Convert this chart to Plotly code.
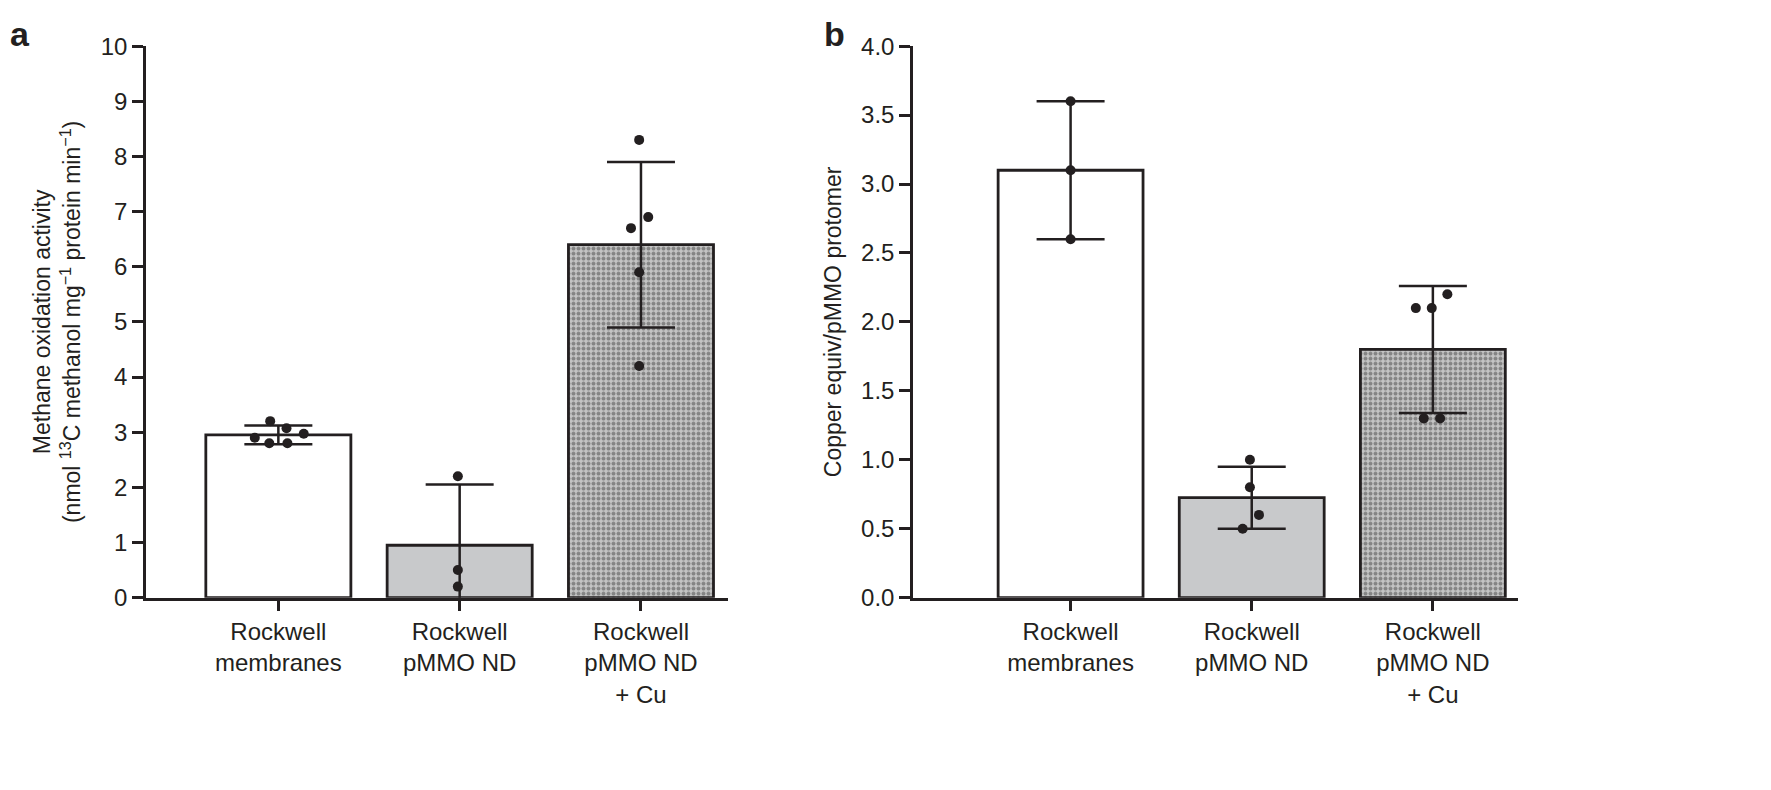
import plotly.graph_objects as go

categories = ["Rockwell<br>membranes", "Rockwell<br>pMMO ND", "Rockwell<br>pMMO ND<br>+ Cu"]

# Panel a: methane oxidation activity
a_means = [2.95, 0.95, 6.4]
a_err = [0.17, 1.1, 1.5]
a_points = [
    [2.9, 3.2, 2.8, 3.07, 2.8, 2.97],
    [2.2, 0.5, 0.2],
    [8.3, 6.7, 6.9, 5.9, 4.2],
]

# Panel b: copper equiv / pMMO protomer
b_means = [3.1, 0.725, 1.8]
b_err = [0.5, 0.225, 0.46]
b_points = [
    [3.6, 3.1, 2.6],
    [1.0, 0.8, 0.6, 0.5],
    [2.1, 2.1, 2.2, 1.3, 1.3],
]

# horizontal jitter of the dots (style only)
a_jit = [[-0.13, -0.045, -0.05, 0.045, 0.05, 0.14], [-0.01, -0.01, -0.01], [-0.01, -0.055, 0.04, -0.01, -0.01]]
b_jit = [[0, 0, 0], [-0.01, -0.01, 0.04, -0.05], [-0.094, -0.006, 0.08, -0.05, 0.04]]

INK = "#231f20"
FAM = "Liberation Sans, Arial, sans-serif"

fig = go.Figure()

def add_panel(means, errs, points, jit, xa, ya):
    xs = list(range(len(means)))
    fig.add_trace(go.Bar(
        x=xs, y=means, width=0.8, xaxis=xa, yaxis=ya,
        marker=dict(color=["white", "#c8c9cb", "#c4c4c4"], line=dict(color=INK, width=2.8),
                    pattern=dict(shape=["", "", "."], fgcolor="#4a4a4a",
                                 bgcolor=["white", "#c8c9cb", "#d6d6d6"], size=5, solidity=0.5)),
        error_y=dict(type="data", array=errs, visible=True, color=INK, thickness=2.5, width=34),
        showlegend=False, hoverinfo="skip"))
    px, py = [], []
    for i, (vals, js) in enumerate(zip(points, jit)):
        for v, j in zip(vals, js):
            px.append(i + j)
            py.append(v)
    fig.add_trace(go.Scatter(
        x=px, y=py, mode="markers", xaxis=xa, yaxis=ya,
        marker=dict(color=INK, size=10), showlegend=False, hoverinfo="skip", cliponaxis=False))

add_panel(a_means, a_err, a_points, a_jit, "x", "y")
add_panel(b_means, b_err, b_points, b_jit, "x2", "y2")

axcommon = dict(showgrid=False, zeroline=False, showline=True, linecolor=INK, linewidth=2.5,
                ticks="outside", ticklen=11, tickwidth=2.5, tickcolor=INK,
                tickfont=dict(family=FAM, size=24, color=INK))

ydom = [1 - 596 / 790, 1 - 25 / 790]

fig.update_layout(
    width=1771, height=790,
    margin=dict(l=0, r=0, t=0, b=0),
    paper_bgcolor="white", plot_bgcolor="white",
    font=dict(family=FAM, size=23, color=INK),
    xaxis=dict(domain=[138 / 1771, 720 / 1771], range=[-0.73, 2.48], tickvals=[0, 1, 2], ticktext=categories,
               **axcommon, anchor="y"),
    yaxis=dict(domain=ydom, range=[0, 10], tickvals=list(range(0, 11)), **axcommon, anchor="x",
               title=dict(text="Methane oxidation activity<br>(nmol <sup>13</sup>C methanol mg<sup>−1</sup> protein min<sup>−1</sup>)",
                          font=dict(size=23), standoff=14)),
    xaxis2=dict(domain=[905 / 1771, 1510 / 1771], range=[-0.87, 2.47], tickvals=[0, 1, 2], ticktext=categories,
                **axcommon, anchor="y2"),
    yaxis2=dict(domain=ydom, range=[0, 4.0], tickvals=[i * 0.5 for i in range(9)], tickformat=".1f",
                **axcommon, anchor="x2",
                title=dict(text="Copper equiv/pMMO protomer", font=dict(size=23), standoff=14)),
)

fig.add_annotation(text="<b>a</b>", x=0, y=1.012, xref="paper", yref="paper", xanchor="left", yanchor="top",
                   showarrow=False, font=dict(family=FAM, size=34, color=INK))
fig.add_annotation(text="<b>b</b>", x=814 / 1771, y=1.012, xref="paper", yref="paper", xanchor="left", yanchor="top",
                   showarrow=False, font=dict(family=FAM, size=34, color=INK))

fig.write_html("out.html")
